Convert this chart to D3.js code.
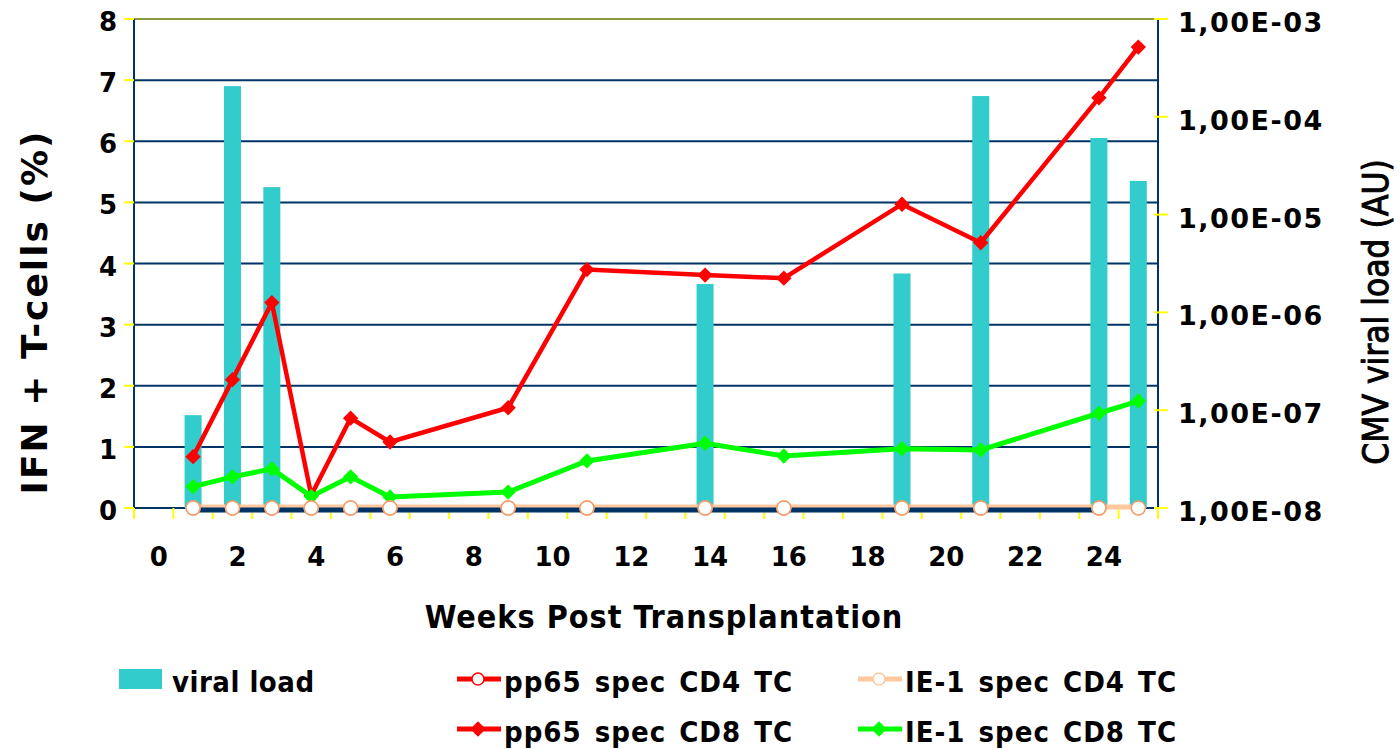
<!DOCTYPE html>
<html>
<head>
<meta charset="utf-8">
<title>CMV viral load and IFN+ T-cells</title>
<script src="https://d3js.org/d3.v7.min.js"></script>
<style>
body { margin: 0; background: #fff; }
svg { display: block; }
text { font-family: "DejaVu Sans", Verdana, sans-serif; font-weight: bold; fill: #000; }
.cond { font-family: "DejaVu Sans Condensed", "DejaVu Sans", sans-serif; }
</style>
</head>
<body>
<svg id="chart"></svg>
<script>

// Data
var weeks = [1, 2, 3, 4, 5, 6, 9, 11, 14, 16, 19, 21, 24, 25];
var viralLoad = [8.9e-8, 2.06e-4, 1.91e-5, null, null, null, null, null, 1.95e-6, null, 2.5e-6, 1.63e-4, 6.07e-5, 2.21e-5];
var pp65CD4 = [0, 0, 0, 0, 0, 0, 0, 0, 0, 0, 0, 0, 0, null];
var pp65CD8 = [0.84, 2.10, 3.36, 0.21, 1.47, 1.08, 1.64, 3.90, 3.81, 3.76, 4.97, 4.34, 6.71, 7.54];
var ie1CD4 = [0, 0, 0, 0, 0, 0, 0, 0, 0, 0, 0, 0, 0, 0];
var ie1CD8 = [0.35, 0.51, 0.64, 0.19, 0.51, 0.18, 0.26, 0.77, 1.06, 0.85, 0.97, 0.95, 1.55, 1.75];
var categories = d3.range(0, 26);
var leftTicks = [0, 1, 2, 3, 4, 5, 6, 7, 8];
var rightTicks = [1e-8, 1e-7, 1e-6, 1e-5, 1e-4, 1e-3];

// Colours
var navy = "#003366", yellow = "#ffff00", cyan = "#33cccc";
var red = "#ff0000", green = "#00ff00", peach = "#ffc89e", peachEdge = "#f49c6a";

var width = 1400, height = 749;
var plotLeft = 134, plotRight = 1158, plotTop = 19, plotBottom = 508;

var svg = d3.select("#chart").attr("width", width).attr("height", height);

var x = d3.scaleBand().domain(categories).range([plotLeft, plotRight]).padding(0);
var bw = x.bandwidth();
function cx(w) { return x(w) + bw / 2; }
var y = d3.scaleLinear().domain([0, 8]).range([plotBottom, plotTop]);
var yLog = d3.scaleLog().domain([1e-8, 1e-3]).range([plotBottom, plotTop]);

// Gridlines
svg.append("g").selectAll("line")
    .data(leftTicks.filter(function (d) { return d > 0; }))
    .enter().append("line")
    .attr("x1", plotLeft).attr("x2", plotRight)
    .attr("y1", function (d) { return y(d); }).attr("y2", function (d) { return y(d); })
    .attr("stroke", function (d) { return d === 8 ? "#8a9a3a" : navy; })
    .attr("stroke-width", 2);

// Axis lines
svg.append("line").attr("x1", plotLeft).attr("x2", plotLeft).attr("y1", plotTop).attr("y2", plotBottom)
    .attr("stroke", navy).attr("stroke-width", 2);
svg.append("line").attr("x1", plotRight).attr("x2", plotRight).attr("y1", plotTop).attr("y2", plotBottom)
    .attr("stroke", navy).attr("stroke-width", 2);
svg.append("line").attr("x1", plotLeft).attr("x2", plotRight).attr("y1", plotBottom).attr("y2", plotBottom)
    .attr("stroke", navy).attr("stroke-width", 2);

// Viral load bars on the log axis
var barData = weeks.map(function (w, i) { return { w: w, v: viralLoad[i] }; })
    .filter(function (d) { return d.v != null; });
svg.append("g").selectAll("rect")
    .data(barData)
    .enter().append("rect")
    .attr("x", function (d) { return cx(d.w) - 8.5; })
    .attr("width", 17)
    .attr("y", function (d) { return yLog(d.v); })
    .attr("height", function (d) { return plotBottom - yLog(d.v); })
    .attr("fill", cyan);

// Ticks (yellow)
svg.append("g").selectAll("line")
    .data(leftTicks).enter().append("line")
    .attr("x1", plotLeft - 10).attr("x2", plotLeft)
    .attr("y1", function (d) { return y(d); }).attr("y2", function (d) { return y(d); })
    .attr("stroke", yellow).attr("stroke-width", 2);
svg.append("g").selectAll("line")
    .data(rightTicks).enter().append("line")
    .attr("x1", plotRight - 4).attr("x2", plotRight + 10)
    .attr("y1", function (d) { return yLog(d); }).attr("y2", function (d) { return yLog(d); })
    .attr("stroke", yellow).attr("stroke-width", 2);
svg.append("g").selectAll("line")
    .data(categories.concat([26])).enter().append("line")
    .attr("x1", function (d) { return plotLeft + d * bw; }).attr("x2", function (d) { return plotLeft + d * bw; })
    .attr("y1", plotBottom).attr("y2", plotBottom + 11)
    .attr("stroke", yellow).attr("stroke-width", 2);

// Tick labels
svg.append("g").selectAll("text")
    .data(leftTicks).enter().append("text")
    .attr("x", 117).attr("y", function (d) { return y(d) + 12; })
    .attr("text-anchor", "end").attr("font-size", 26)
    .text(function (d) { return d; });
svg.append("g").selectAll("text")
    .data(rightTicks).enter().append("text")
    .attr("x", 1178).attr("y", function (d) { return yLog(d) + 13; })
    .attr("font-size", 27).attr("letter-spacing", 1.5)
    .text(function (d) {
        var e = Math.round(-Math.log10(d));
        return "1,00E-" + (e < 10 ? "0" : "") + e;
    });
svg.append("g").selectAll("text")
    .data(categories.filter(function (d) { return d % 2 === 0; })).enter().append("text")
    .attr("x", function (d) { return cx(d) + 5; }).attr("y", 566)
    .attr("text-anchor", "middle").attr("font-size", 26)
    .text(function (d) { return d; });

// Axis titles
svg.append("text").attr("class", "cond")
    .attr("x", 664).attr("y", 628).attr("text-anchor", "middle").attr("font-size", 32)
    .attr("letter-spacing", 1)
    .text("Weeks Post Transplantation");
svg.append("text")
    .attr("transform", "translate(47,312)rotate(-90)").attr("text-anchor", "middle").attr("font-size", 36)
    .attr("letter-spacing", 2)
    .text("IFN + T-cells (%)");
svg.append("text").attr("class", "cond")
    .attr("transform", "translate(1388,312)rotate(-90)").attr("text-anchor", "middle").attr("font-size", 35)
    .style("font-weight", "normal").style("stroke", "#000").style("stroke-width", 0.9)
    .text("CMV viral load (AU)");

// Series lines
function seriesPoints(vals) {
    return weeks.map(function (w, i) { return { w: w, v: vals[i] }; })
        .filter(function (d) { return d.v != null; });
}
var line = d3.line().x(function (d) { return cx(d.w); }).y(function (d) { return y(d.v); });
var diamond = d3.symbol().type(d3.symbolDiamond2).size(150);

function drawLine(vals, color, w, offset) {
    svg.append("path").datum(seriesPoints(vals))
        .attr("d", line).attr("fill", "none")
        .attr("stroke", color).attr("stroke-width", w)
        .attr("transform", "translate(0," + (offset || 0) + ")");
}
function drawDiamonds(vals, color) {
    svg.append("g").selectAll("path")
        .data(seriesPoints(vals)).enter().append("path")
        .attr("d", diamond)
        .attr("transform", function (d) { return "translate(" + cx(d.w) + "," + y(d.v) + ")"; })
        .attr("fill", color);
}
function drawCircles(vals, edge) {
    svg.append("g").selectAll("circle")
        .data(seriesPoints(vals)).enter().append("circle")
        .attr("cx", function (d) { return cx(d.w); }).attr("cy", function (d) { return y(d.v); })
        .attr("r", 7).attr("fill", "#fff").attr("stroke", edge).attr("stroke-width", 1.5);
}

drawLine(ie1CD4, peach, 5, -1);
drawLine(pp65CD4, navy, 5, 2);
drawLine(pp65CD8, red, 4.5);
drawDiamonds(pp65CD8, red);
drawLine(ie1CD8, green, 5);
drawDiamonds(ie1CD8, green);
drawCircles(pp65CD4, peachEdge);
drawCircles(ie1CD4, peachEdge);

// Legend
var lg = svg.append("g");
lg.append("rect").attr("x", 119).attr("y", 669).attr("width", 43).attr("height", 20).attr("fill", cyan);
lg.append("text").attr("class", "cond").attr("x", 172).attr("y", 692).attr("font-size", 29)
    .attr("letter-spacing", 0.5).text("viral load");

var legendItems = [
    { name: "pp65 spec CD4 TC", color: red, marker: "circle", edge: red, x: 457, y: 679 },
    { name: "pp65 spec CD8 TC", color: red, marker: "diamond", x: 457, y: 729 },
    { name: "IE-1 spec CD4 TC", color: peach, marker: "circle", edge: peach, x: 858, y: 679 },
    { name: "IE-1 spec CD8 TC", color: green, marker: "diamond", x: 858, y: 729 }
];
legendItems.forEach(function (it) {
    lg.append("line").attr("x1", it.x).attr("x2", it.x + 44).attr("y1", it.y).attr("y2", it.y)
        .attr("stroke", it.color).attr("stroke-width", 5);
    if (it.marker === "circle") {
        lg.append("circle").attr("cx", it.x + 21).attr("cy", it.y).attr("r", 6)
            .attr("fill", "#fff").attr("stroke", it.edge).attr("stroke-width", 1.5);
    } else {
        lg.append("path").attr("d", diamond).attr("transform", "translate(" + (it.x + 21) + "," + it.y + ")")
            .attr("fill", it.color);
    }
    lg.append("text").attr("class", "cond").attr("x", it.x + 47).attr("y", it.y + 13)
        .attr("font-size", 29).attr("letter-spacing", 1).attr("word-spacing", 3).text(it.name);
});
</script>
</body>
</html>
